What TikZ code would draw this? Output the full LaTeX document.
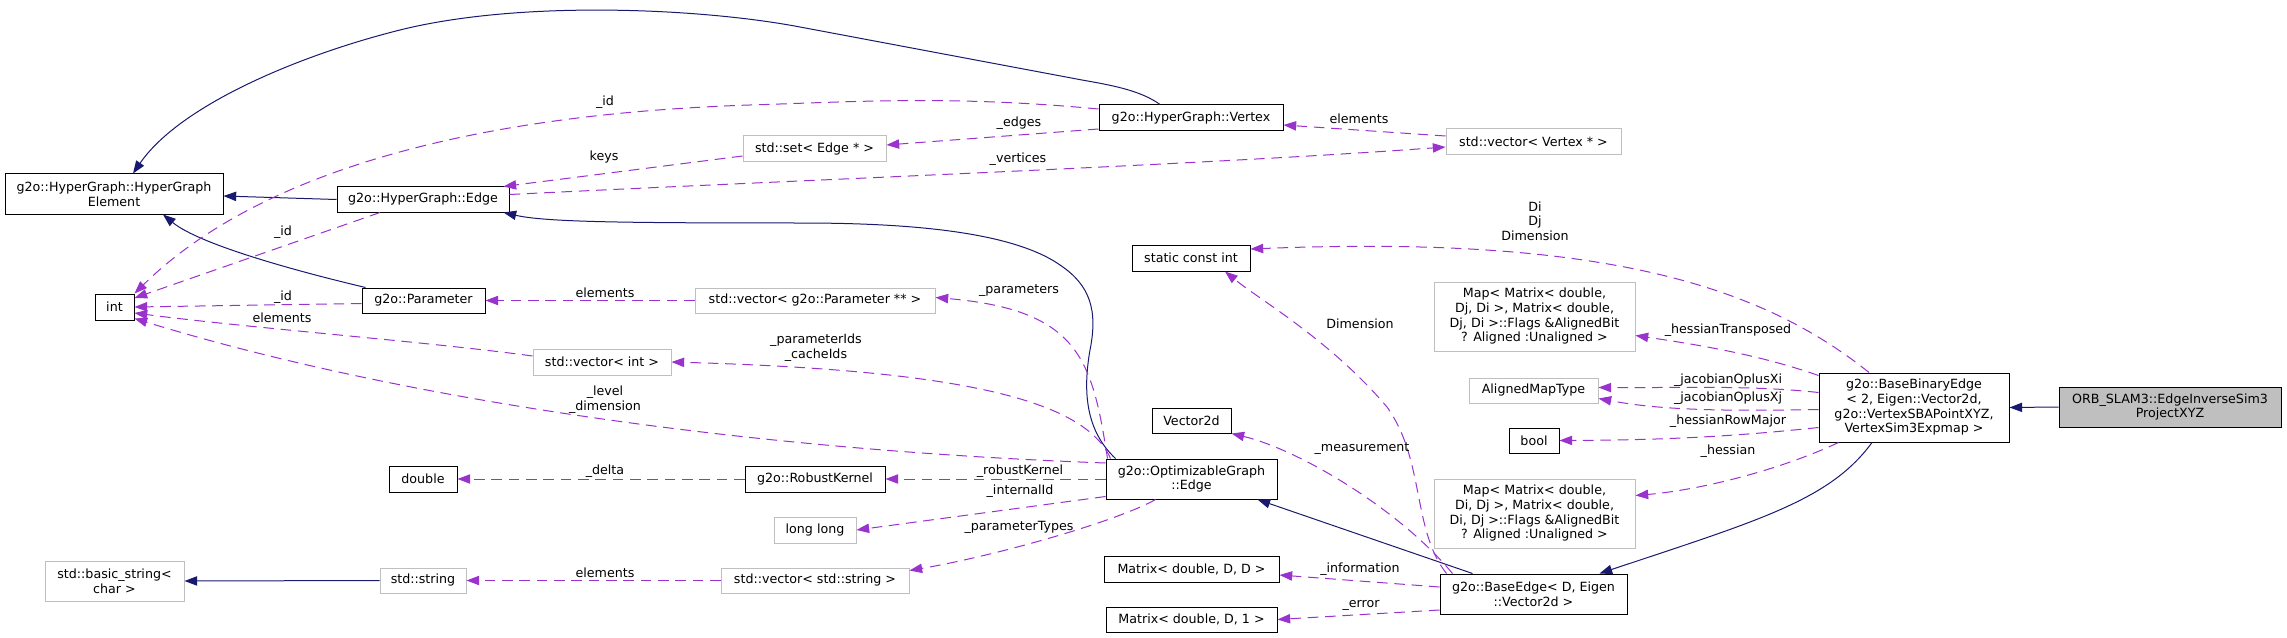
\documentclass[tikz,border=0pt]{standalone}
\usepackage{fontspec}
\setmainfont{DejaVu Sans}
\usepackage{xcolor}
\usepackage{tikz}
\usetikzlibrary{arrows.meta, positioning, calc}

\definecolor{inhblue}{HTML}{191970}
\definecolor{usepurple}{HTML}{9A32CD}
\definecolor{undocgray}{HTML}{BFBFBF}

\tikzset{
  doxfont/.style={font=\fontsize{9.5pt}{11pt}\selectfont},
  box/.style 2 args={draw=black, line width=0.75pt, fill=white, inner sep=0pt, align=center,
    minimum width=#1*0.75pt, minimum height=#2*0.75pt, doxfont},
  gbox/.style 2 args={box={#1}{#2}, draw=undocgray},
  inh/.style={draw=inhblue, line width=0.75pt, -{Triangle[length=9.5pt,width=7pt]}},
  use/.style={draw=usepurple, line width=0.75pt, dash pattern=on 8pt off 5pt,
    -{Triangle[length=9.5pt,width=7pt]}},
  lbl/.style={inner sep=0pt, align=center, doxfont}
}

\begin{document}
\begin{tikzpicture}[x=0.75pt, y=-0.75pt]
  \fill[white] (0,0) rectangle (2287,638);
  \useasboundingbox (0,0) rectangle (2287,638);

  % Classes, column by column
  \node[box={218}{40}] (hgelem) at (114,194) {g2o::HyperGraph::HyperGraph\\Element};
  \node[box={39}{26}] (int) at (114.5,307) {int};
  \node[gbox={139}{40}] (basicstring) at (114.5,581) {std::basic\_string<\\char >};

  \node[box={172}{25}] (hgedge) at (423,199.5) {g2o::HyperGraph::Edge};
  \node[box={123}{25}] (param) at (423.5,300.5) {g2o::Parameter};
  \node[box={68}{26}] (double) at (423,479) {double};
  \node[gbox={86}{25}] (stdstring) at (423,580.5) {std::string};

  \node[gbox={138}{26}] (vecint) at (602,362) {std::vector< int >};

  \node[gbox={143}{26}] (setedge) at (814.5,149) {std::set< Edge * >};
  \node[gbox={240}{25}] (vecparam) at (815,300.5) {std::vector< g2o::Parameter ** >};
  \node[box={140}{26}] (robust) at (815,479) {g2o::RobustKernel};
  \node[gbox={82}{26}] (longlong) at (815,530) {long long};
  \node[gbox={188}{25}] (vecstring) at (815,580.5) {std::vector< std::string >};

  \node[box={184}{26}] (hgvertex) at (1191,118) {g2o::HyperGraph::Vertex};
  \node[box={118}{26}] (staticint) at (1191,258) {static const int};
  \node[box={79}{25}] (vector2d) at (1191.5,420.5) {Vector2d};
  \node[box={171}{40}] (optedge) at (1191.5,479) {g2o::OptimizableGraph\\::Edge};
  \node[box={175}{26}] (matrixdd) at (1191.5,569) {Matrix< double, D, D >};
  \node[box={171}{25}] (matrixd1) at (1191.5,619.5) {Matrix< double, D, 1 >};

  \node[gbox={175}{26}] (vecvertex) at (1533.5,142) {std::vector< Vertex * >};
  \node[gbox={201}{69}] (map1) at (1534.5,316.5) {Map< Matrix< double,\\ Dj, Di >, Matrix< double,\\ Dj, Di >::Flags \&AlignedBit\\ ? Aligned :Unaligned >};
  \node[gbox={129}{25}] (alignedmap) at (1533.5,390.5) {AlignedMapType};
  \node[box={50}{25}] (bool) at (1534,440.5) {bool};
  \node[gbox={201}{69}] (map2) at (1534.5,513.5) {Map< Matrix< double,\\ Di, Dj >, Matrix< double,\\ Di, Dj >::Flags \&AlignedBit\\ ? Aligned :Unaligned >};
  \node[box={187}{40}] (baseedge) at (1533.5,594) {g2o::BaseEdge< D, Eigen\\::Vector2d >};

  \node[box={190}{69}] (bbe) at (1914,407.5) {g2o::BaseBinaryEdge\\< 2, Eigen::Vector2d,\\ g2o::VertexSBAPointXYZ,\\ VertexSim3Expmap >};
  \node[box={222}{40}, fill=undocgray] (orb) at (2170,407) {ORB\_SLAM3::EdgeInverseSim3\\ProjectXYZ};

  % Inheritance
  \draw[inh] ($(hgvertex.north)+(-31,0)$) .. controls (1140,90) and (1110,85) .. (1082,80) -- (800,27)
    .. controls (700,8) and (520,0) .. (400,30) .. controls (300,55) and (180,105) .. ($(hgelem.north)+(19,0)$);
  \draw[inh] (hgedge.west) -- ($(hgelem.east)+(0,2)$);
  \draw[inh] ($(param.north)+(-58,0)$) .. controls (300,272) and (200,245) .. ($(hgelem.south)+(49,0)$);
  \draw[inh] ($(optedge.north)+(-76,0)$) .. controls (1085,430) and (1083,390) .. (1090,350)
    .. controls (1098,310) and (1090,285) .. (1060,265) .. controls (1010,230) and (900,223) .. (800,223)
    .. controls (620,223) and (545,222) .. ($(hgedge.south east)+(-6,0)$);
  \draw[inh] ($(baseedge.north)+(-61,0)$) -- ($(optedge.south)+(66,0)$);
  \draw[inh] ($(bbe.south)+(-42,0)$) .. controls (1830,500) and (1760,520) .. ($(baseedge.north)+(66,0)$);
  \draw[inh] (orb.west) -- (bbe.east);
  \draw[inh] (stdstring.west) -- (basicstring.east);

  % Usage
  \draw[use] ($(hgvertex.west)+(0,-9)$) .. controls (950,95) and (850,102) .. (750,105)
    .. controls (450,115) and (250,180) .. (int.north east);
  \draw[use] ($(hgedge.east)+(0,-5)$) .. controls (800,180) and (1200,165) .. ($(vecvertex.west)+(0,5)$);
  \draw[use] ($(vecvertex.west)+(0,-6)$) -- ($(hgvertex.east)+(0,7)$);
  \draw[use] ($(hgvertex.west)+(0,11)$) -- ($(setedge.east)+(0,-4)$);
  \draw[use] ($(setedge.west)+(0,7)$) -- ($(hgedge.north east)+(-6,0)$);
  \draw[use] ($(hgedge.south)+(-43,0)$) -- ($(int.east)+(0,-9)$);
  \draw[use] ($(param.west)+(0,3)$) -- (int.east);
  \draw[use] (vecparam.west) -- (param.east);
  \draw[use] ($(vecint.west)+(0,-6)$) .. controls (430,342) and (250,328) .. ($(int.east)+(0,6)$);
  \draw[use] ($(optedge.west)+(0,-16)$) .. controls (750,450) and (400,400) .. ($(int.south east)+(0,-2)$);
  \draw[use] ($(optedge.north)+(-81,0)$) .. controls (1085,400) and (960,370) .. (vecint.east);
  \draw[use] ($(optedge.north)+(-84,0)$) .. controls (1092,360) and (1080,310) .. ($(vecparam.east)+(0,-3)$);
  \draw[use] (optedge.west) -- (robust.east);
  \draw[use] ($(optedge.south west)+(0,-3)$) -- (longlong.east);
  \draw[use] ($(optedge.south)+(-36,0)$) .. controls (1120,520) and (1000,555) .. ($(vecstring.east)+(0,-10)$);
  \draw[use] (vecstring.west) -- (stdstring.east);
  \draw[use] (robust.west) -- (double.east);
  \draw[use] ($(bbe.north)+(-45,0)$) .. controls (1760,285) and (1600,235) .. ($(staticint.east)+(0,-9)$);
  \draw[use] ($(baseedge.north)+(-87,0)$) .. controls (1412,530) and (1425,460) .. (1387,407)
    .. controls (1330,340) and (1260,300) .. ($(staticint.south)+(34,0)$);
  \draw[use] ($(baseedge.north)+(-81,0)$) .. controls (1400,510) and (1300,450) .. (vector2d.south east);
  \draw[use] ($(baseedge.west)+(0,-7)$) -- ($(matrixdd.east)+(0,6)$);
  \draw[use] ($(baseedge.west)+(0,16)$) -- (matrixd1.east);
  \draw[use] ($(bbe.north west)+(0,3)$) .. controls (1760,355) and (1700,345) .. ($(map1.east)+(0,19)$);
  \draw[use] ($(bbe.west)+(0,-15)$) .. controls (1750,385) and (1680,388) .. ($(alignedmap.east)+(0,-3)$);
  \draw[use] ($(bbe.west)+(0,2)$) .. controls (1700,412) and (1650,408) .. ($(alignedmap.east)+(0,8)$);
  \draw[use] ($(bbe.west)+(0,20)$) .. controls (1720,438) and (1650,440) .. (bool.east);
  \draw[use] ($(bbe.south west)+(20,0)$) .. controls (1780,470) and (1700,490) .. ($(map2.east)+(0,-18)$);

  % Member names on the usage edges
  \foreach \x/\y/\t [count=\i] in {605/102/\_id, 604/157/keys, 283/232/\_id, 283/297/\_id,
      282/318/elements, 605/293/elements, 605/400/{\_level\\\_dimension}, 605/471/\_delta,
      605/573/elements, 1019/123/\_edges, 1359/119/elements, 1018/159/\_vertices,
      1535/221/{Di\\Dj\\Dimension}, 1019/291/\_parameters, 816/348/{\_parameterIds\\\_cacheIds},
      1360/324/Dimension, 1362/449/\_measurement, 1020/471/\_robustKernel, 1020/491/\_internalId,
      1019/527/\_parameterTypes, 1360/569/\_information, 1361/605/\_error,
      1728/330/\_hessianTransposed, 1728/380/\_jacobianOplusXi, 1728/398/\_jacobianOplusXj,
      1728/421/\_hessianRowMajor, 1728/451/\_hessian} {
    \node[lbl] (lab\i) at (\x,\y) {\t};
  }
\end{tikzpicture}
\end{document}
